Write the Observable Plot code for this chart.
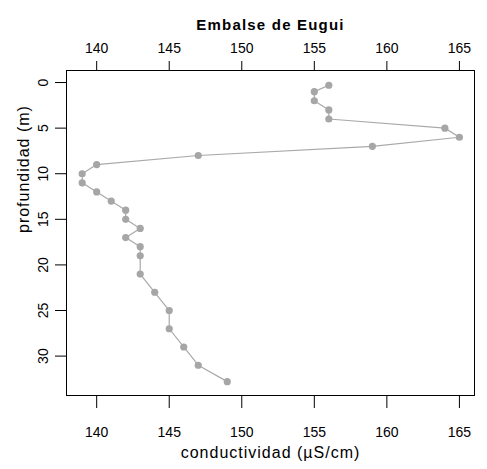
<!DOCTYPE html>
<html>
<head>
<meta charset="utf-8">
<script src="https://cdn.jsdelivr.net/npm/d3@7"></script>
<script src="https://cdn.jsdelivr.net/npm/@observablehq/plot@0.6"></script>
<style>
  html, body { margin: 0; padding: 0; background: #fff; }
</style>
</head>
<body>
<div id="chart"></div>
<script>
const depth = [0.3, 1, 2, 3, 4, 5, 6, 7, 8, 9, 10, 11, 12, 13, 14, 15, 16, 17, 18, 19, 21, 23, 25, 27, 29, 31, 32.8];
const conductivity = [156, 155, 155, 156, 156, 164, 165, 159, 147, 140, 139, 139, 140, 141, 142, 142, 143, 142, 143, 143, 143, 144, 145, 145, 146, 147, 149];
const xTicks = [140, 145, 150, 155, 160, 165];
const yTicks = [0, 5, 10, 15, 20, 25, 30];
const title = "Embalse de Eugui";
const xLabel = "conductividad (µS/cm)";
const yLabel = "profundidad (m)";

const data = depth.map((d, i) => ({depth: d, cond: conductivity[i]}));
const font = "Liberation Sans, Arial, Helvetica, sans-serif";

const svg = Plot.plot({
  width: 487,
  height: 469,
  marginTop: 70,
  marginBottom: 74,
  marginLeft: 66,
  marginRight: 13,
  style: {fontFamily: font, fontSize: "14px", background: "#fff", color: "#000"},
  x: {domain: [137.92, 166.04]},
  y: {domain: [-1.32, 34.32], reverse: true},
  marks: [
    Plot.frame({stroke: "#000", strokeWidth: 1}),
    Plot.line(data, {x: "cond", y: "depth", stroke: "#a9a9a9", strokeWidth: 1.2}),
    Plot.dot(data, {x: "cond", y: "depth", r: 3.6, fill: "#a6a6a6", stroke: "none"}),
    Plot.axisX({anchor: "top", ticks: xTicks, tickSize: 10, tickPadding: 8, fontSize: 14, label: null, stroke: "#000"}),
    Plot.axisX({anchor: "bottom", ticks: xTicks, tickSize: 13, tickPadding: 19, fontSize: 14, label: null, stroke: "#000"}),
    Plot.axisY({anchor: "left", ticks: yTicks, tickSize: 11, tickPadding: 8, tickRotate: -90, fontSize: 14, label: null, stroke: "#000"}),
    Plot.text([title], {frameAnchor: "top", dy: -51, fontSize: 15, fontWeight: "bold", fill: "#000"}),
    Plot.text([xLabel], {frameAnchor: "bottom", dy: 62, fontSize: 16, fill: "#000"}),
    Plot.text([yLabel], {frameAnchor: "left", dx: -43, rotate: -90, fontSize: 16, fill: "#000"})
  ]
});

const spacing = new Map([[title, "1.2px"], [xLabel, "1px"], [yLabel, "1px"]]);
d3.select(svg).selectAll("text")
  .filter(function() { return spacing.has(this.textContent); })
  .each(function() { this.style.letterSpacing = spacing.get(this.textContent); });

document.getElementById("chart").appendChild(svg);
</script>
</body>
</html>
